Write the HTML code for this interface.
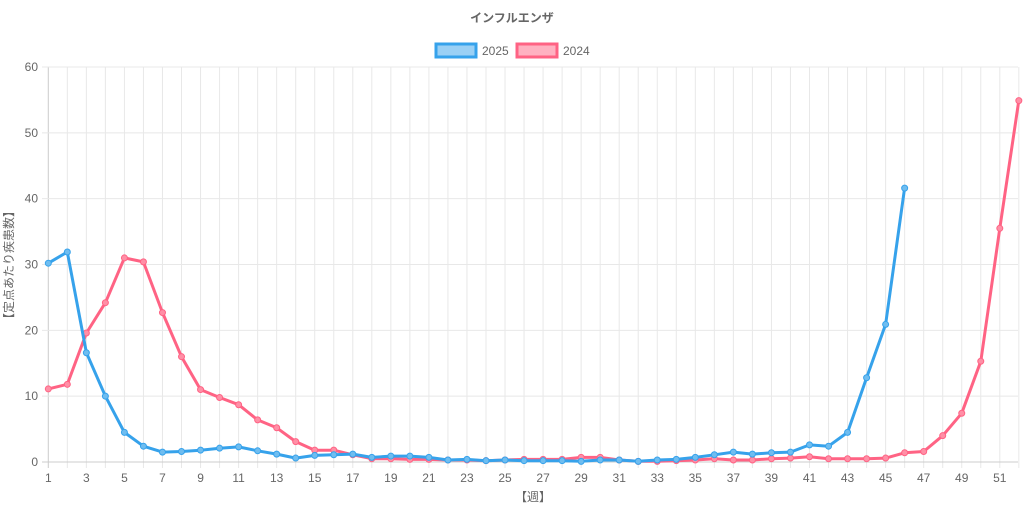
<!DOCTYPE html><html><head><meta charset="utf-8"><style>body{margin:0;background:#fff}svg{display:block;font-family:"Liberation Sans","Noto Sans CJK JP",sans-serif}</style></head><body>
<svg id="s" width="1024" height="512" xmlns="http://www.w3.org/2000/svg">
<text x="512" y="22" text-anchor="middle" font-size="12" font-weight="bold" fill="#666">インフルエンザ</text>
<rect x="436" y="44" width="40" height="13" fill="rgba(54,162,235,0.5)" stroke="#36a2eb" stroke-width="3"/>
<text x="482" y="55" font-size="12" fill="#666">2025</text>
<rect x="517" y="44" width="40" height="13" fill="rgba(255,99,132,0.5)" stroke="#ff6384" stroke-width="3"/>
<text x="563" y="55" font-size="12" fill="#666">2024</text>
<text transform="translate(13,265) rotate(-90)" text-anchor="middle" font-size="12" fill="#666">【定点あたり疾患数】</text>
<text x="533" y="501" text-anchor="middle" font-size="12" fill="#666">【週】</text>
<g id="g"></g>
</svg>
<script>
var g=document.getElementById('g'),h='';
var X=function(w){return 48.3+(w-1)*19.03},Y=function(v){return 462-v*6.583};
for(var w=1;w<=52;w++){var x=X(w);h+='<line x1="'+x+'" y1="67" x2="'+x+'" y2="468" stroke="'+(w==1?'#ccc':'#e8e8e8')+'"/>';if(w%2)h+='<text x="'+x+'" y="482" text-anchor="middle" font-size="12" fill="#666">'+w+'</text>';}
for(var v=0;v<=60;v+=10){var y=Y(v);h+='<line x1="42" y1="'+y+'" x2="1018" y2="'+y+'" stroke="'+(v==0?'#ccc':'#e8e8e8')+'"/><text x="38" y="'+(y+4)+'" text-anchor="end" font-size="12" fill="#666">'+v+'</text>';}
function s(d,c,f){var p=d.map(function(v,i){return X(i+1).toFixed(1)+','+Y(v).toFixed(1)}).join(' ');h+='<polyline points="'+p+'" fill="none" stroke="'+c+'" stroke-width="3" stroke-linejoin="round"/>';d.forEach(function(v,i){h+='<circle cx="'+X(i+1)+'" cy="'+Y(v)+'" r="3" fill="'+f+'" stroke="'+c+'"/>';});}
s([11.1,11.8,19.6,24.2,31.0,30.4,22.7,16.0,11.0,9.8,8.7,6.4,5.2,3.1,1.8,1.8,1.1,0.5,0.5,0.4,0.4,0.3,0.3,0.2,0.3,0.4,0.4,0.4,0.7,0.7,0.3,0.1,0.1,0.2,0.3,0.5,0.3,0.3,0.5,0.6,0.8,0.5,0.5,0.5,0.6,1.4,1.6,4.0,7.4,15.3,35.5,54.9],'#ff6384','#ff8fa6');
s([30.2,31.9,16.6,10.0,4.5,2.4,1.5,1.6,1.8,2.1,2.3,1.7,1.2,0.6,1.0,1.1,1.2,0.7,0.9,0.9,0.7,0.3,0.4,0.2,0.3,0.2,0.2,0.2,0.1,0.3,0.3,0.1,0.3,0.4,0.7,1.1,1.5,1.2,1.4,1.5,2.6,2.4,4.5,12.8,20.9,41.6],'#36a2eb','#6fbdf0');
g.innerHTML=h;
</script></body></html>
